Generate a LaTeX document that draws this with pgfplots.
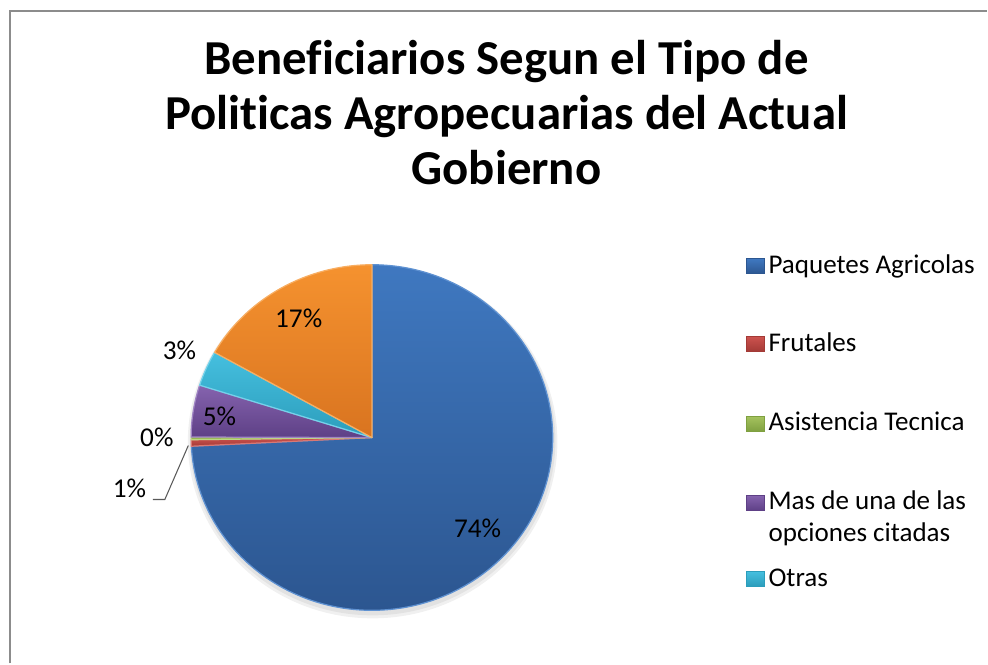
\documentclass[border=0pt]{standalone}
\usepackage{pgfplots}
\pgfplotsset{compat=1.18}
\usepackage{pgfplotstable}
\usepackage{fontspec}
\setmainfont[Ligatures=NoCommon]{Carlito}

% slice colours: top / bottom of the shading, edge
\definecolor{t0}{HTML}{3F78C0}\definecolor{b0}{HTML}{2C5690}\definecolor{e0}{HTML}{5F92D2}
\definecolor{t1}{HTML}{CC524E}\definecolor{b1}{HTML}{A33A36}\definecolor{e1}{HTML}{D87874}
\definecolor{t2}{HTML}{A4C25E}\definecolor{b2}{HTML}{7FA040}\definecolor{e2}{HTML}{BCD784}
\definecolor{t3}{HTML}{8563AE}\definecolor{b3}{HTML}{5E4086}\definecolor{e3}{HTML}{A085C4}
\definecolor{t4}{HTML}{45BFDF}\definecolor{b4}{HTML}{2C9DBB}\definecolor{e4}{HTML}{74D2EA}
\definecolor{t5}{HTML}{F5922F}\definecolor{b5}{HTML}{D97420}\definecolor{e5}{HTML}{F8AE62}
\definecolor{frame}{HTML}{8C8C8C}

% shares in percent, clockwise from 12 o'clock
\pgfplotstableread{
share
74.2
0.6
0.25
4.85
3.3
16.8
}\piedata

\def\cum{0}%
\pgfplotstableforeachcolumnelement{share}\of\piedata\as\v{%
  \pgfmathsetmacro\tmpa{90-3.6*\cum}%
  \expandafter\xdef\csname sa\pgfplotstablerow\endcsname{\tmpa}%
  \pgfmathsetmacro\tmpc{\cum+\v}%
  \xdef\cum{\tmpc}%
  \pgfmathsetmacro\tmpb{90-3.6*\cum}%
  \expandafter\xdef\csname sb\pgfplotstablerow\endcsname{\tmpb}%
}%

\begin{document}
\begin{tikzpicture}
\begin{axis}[
    x=0.02cm, y=0.02cm,
    xmin=0, xmax=988, ymin=0, ymax=664,
    hide axis, clip=false,
]
\path (axis cs:0,0) rectangle (axis cs:988,664);
% chart frame
\draw[frame, line width=0.04cm] (axis cs:10,0) -- (axis cs:10,653) -- (axis cs:988,653);

% title
\node[anchor=base, inner sep=0, font=\fontsize{27.8}{33}\selectfont\bfseries] at (axis cs:507,589) {Beneficiarios Segun el Tipo de};
\node[anchor=base, inner sep=0, font=\fontsize{27.8}{33}\selectfont\bfseries] at (axis cs:507,534) {Politicas Agropecuarias del Actual};
\node[anchor=base, inner sep=0, font=\fontsize{27.8}{33}\selectfont\bfseries] at (axis cs:507,479) {Gobierno};

% soft shadow
\fill[black, opacity=0.06] (axis cs:373,222) ellipse [x radius=3.70cm, y radius=3.54cm];
\fill[black, opacity=0.06] (axis cs:373,223) ellipse [x radius=3.66cm, y radius=3.50cm];

% slices
\pgfplotsinvokeforeach{0,...,5}{%
  \shade[top color=t#1, bottom color=b#1, draw=e#1, line width=0.7pt, line join=round]
    (axis cs:372.3,226)
    -- (axis cs:{372.3+181*cos(\csname sa#1\endcsname)},{226+173*sin(\csname sa#1\endcsname)})
    arc[start angle=\csname sa#1\endcsname, end angle=\csname sb#1\endcsname, x radius=3.62cm, y radius=3.46cm]
    -- cycle;
}

% data labels
\node[anchor=base, inner sep=0, font=\fontsize{15.5}{18}\selectfont] at (axis cs:478,126.3) {74\%};
\node[anchor=base, inner sep=0, font=\fontsize{15.5}{18}\selectfont] at (axis cs:299,335.7) {17\%};
\node[anchor=base, inner sep=0, font=\fontsize{15.5}{18}\selectfont] at (axis cs:219.7,238) {5\%};
\node[anchor=base, inner sep=0, font=\fontsize{15.5}{18}\selectfont] at (axis cs:179.7,304) {3\%};
\node[anchor=base, inner sep=0, font=\fontsize{15.5}{18}\selectfont] at (axis cs:157,216.7) {0\%};
\node[anchor=base, inner sep=0, font=\fontsize{15.5}{18}\selectfont] at (axis cs:129.5,165.7) {1\%};
\draw[black!65, line width=0.6pt] (axis cs:153,164) -- (axis cs:165,164) -- (axis cs:188.5,218);

% legend
\shade[top color=t0, bottom color=b0, draw=b0] (axis cs:747,405) rectangle (axis cs:765,390);
\shade[top color=t1, bottom color=b1, draw=b1] (axis cs:747,327) rectangle (axis cs:765,312);
\shade[top color=t2, bottom color=b2, draw=b2] (axis cs:747,247) rectangle (axis cs:765,232);
\shade[top color=t3, bottom color=b3, draw=b3] (axis cs:747,168) rectangle (axis cs:765,153);
\shade[top color=t4, bottom color=b4, draw=b4] (axis cs:747,92) rectangle (axis cs:765,77);
\node[anchor=base west, inner sep=0, font=\fontsize{15.4}{18}\selectfont] at (axis cs:769,390.7) {Paquetes Agricolas};
\node[anchor=base west, inner sep=0, font=\fontsize{15.4}{18}\selectfont] at (axis cs:769,312.3) {Frutales};
\node[anchor=base west, inner sep=0, font=\fontsize{15.4}{18}\selectfont] at (axis cs:769,233) {Asistencia Tecnica};
\node[anchor=base west, inner sep=0, font=\fontsize{15.4}{18}\selectfont] at (axis cs:769,154) {Mas de una de las};
\node[anchor=base west, inner sep=0, font=\fontsize{15.4}{18}\selectfont] at (axis cs:769,122.3) {opciones citadas};
\node[anchor=base west, inner sep=0, font=\fontsize{15.4}{18}\selectfont] at (axis cs:769,77.3) {Otras};
\end{axis}
\end{tikzpicture}
\end{document}
